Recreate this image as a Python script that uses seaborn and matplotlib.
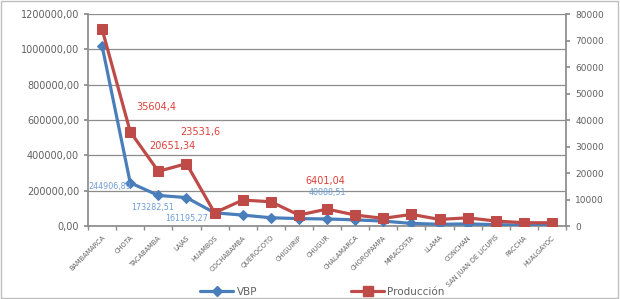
import matplotlib
matplotlib.use("Agg")
import matplotlib.pyplot as plt
import seaborn as sns
import pandas as pd
from matplotlib.lines import Line2D
from matplotlib.patches import Rectangle
from matplotlib.ticker import FuncFormatter, MultipleLocator, FixedLocator

categories = ["BAMBAMARCA", "CHOTA", "TACABAMBA", "LAJAS", "HUAMBOS", "COCHABAMBA",
              "QUEROCOTO", "CHIGUIRIP", "CHUGUR", "CHALAMARCA", "CHOROPAMPA",
              "MIRACOSTA", "LLAMA", "CONCHAN", "SAN JUAN DE LICUPIS", "PACCHA", "HUALGAYOC"]
vbp = [1020000, 244906.89, 173282.51, 161195.27, 75000, 62000, 47000, 42000, 40088.51,
       35000, 28000, 15000, 10000, 12000, 8000, 5000, 4000]
produccion = [74300, 35604.4, 20651.34, 23531.6, 5000, 9800, 9170, 4150, 6401.04,
              4150, 2900, 4400, 2500, 3100, 1900, 1250, 1250]
vbp_labels = {1: "244906,89", 2: "173282,51", 3: "161195,27", 8: "40088,51"}
prod_labels = {1: "35604,4", 2: "20651,34", 3: "23531,6", 8: "6401,04"}

df = pd.DataFrame({"cat": categories, "pos": range(len(categories)),
                   "VBP": vbp, "Produccion": produccion})

sns.set_theme(style="white")
plt.rcParams['font.family'] = ['DejaVu Sans']

blue = "#4A7EBB"
red = "#BE4B48"
gray_txt = "#606060"
axis_gray = "#8C8C8C"

fig = plt.figure(figsize=(6.2, 2.99), dpi=100)
fig.patches.append(Rectangle((0.002, 0.003), 0.995, 0.993, transform=fig.transFigure,
                             fill=False, edgecolor="#BFBFBF", linewidth=1))
ax = fig.add_axes([0.142, 0.244, 0.771, 0.709])
ax2 = ax.twinx()

sns.lineplot(data=df, x="pos", y="VBP", ax=ax, color=blue, linewidth=2.3,
             marker="D", markersize=5, markeredgecolor=blue, zorder=3)
sns.lineplot(data=df, x="pos", y="Produccion", ax=ax2, color=red, linewidth=2.3,
             marker="s", markersize=7, markeredgecolor=red, zorder=3)

n = len(categories)
for a in (ax, ax2):
    a.set_xlim(-0.5, n - 0.5)
    a.set_xlabel("")
    a.set_ylabel("")
ax.set_ylim(0, 1200000)
ax2.set_ylim(0, 80000)
ax.yaxis.set_major_locator(MultipleLocator(200000))
ax2.yaxis.set_major_locator(MultipleLocator(10000))
ax.yaxis.set_major_formatter(FuncFormatter(lambda v, p: f"{v:.2f}".replace(".", ",")))
ax2.yaxis.set_major_formatter(FuncFormatter(lambda v, p: f"{int(v)}"))

ax.set_xticks(range(n))
ax.set_xticklabels(categories, rotation=45, ha="right", rotation_mode="anchor",
                   fontsize=4.8, color=gray_txt)
ax.xaxis.set_minor_locator(FixedLocator([i - 0.5 for i in range(n + 1)]))
ax.tick_params(axis="x", which="major", length=0, pad=6)
ax.tick_params(axis="x", which="minor", length=3, color=axis_gray, direction="out", bottom=True)
ax.tick_params(axis="y", labelsize=7, colors=gray_txt, length=3, color=axis_gray, left=True)
ax2.tick_params(axis="y", labelsize=6.5, colors=gray_txt, length=3, color=axis_gray, right=True)

ax.grid(axis="y", color="#8C8C8C", linewidth=0.9)
ax.grid(axis="x", visible=False)
ax2.grid(False)
for a in (ax, ax2):
    for s in a.spines.values():
        s.set_visible(False)
ax.spines["left"].set_visible(True)
ax.spines["left"].set_color(axis_gray)
ax.spines["bottom"].set_visible(True)
ax.spines["bottom"].set_color(axis_gray)
ax2.spines["right"].set_visible(True)
ax2.spines["right"].set_color(axis_gray)

vbp_off = {1: (-20, -4), 2: (-6, -12), 3: (0, -21), 8: (0, 26)}
for i, t in vbp_labels.items():
    dx, dy = vbp_off[i]
    ax2.annotate(t, (i, vbp[i] / 15.0), xytext=(dx, dy), textcoords="offset pixels",
                 ha="center", va="center", fontsize=5.8, color="#6F9ED5", zorder=5)
prod_off = {1: (26, 25), 2: (14, 25), 3: (14, 32), 8: (-2, 28)}
for i, t in prod_labels.items():
    dx, dy = prod_off[i]
    ax2.annotate(t, (i, produccion[i]), xytext=(dx, dy), textcoords="offset pixels",
                 ha="center", va="center", fontsize=7, color="#E0403A", zorder=5)

handles = [Line2D([0], [0], color=blue, linewidth=2.3, marker="D", markersize=5),
           Line2D([0], [0], color=red, linewidth=2.3, marker="s", markersize=7)]
fig.legend(handles, ["VBP", "Producción"], loc="center", bbox_to_anchor=(0.52, 0.025),
           ncol=2, frameon=False, fontsize=7.5, columnspacing=9, handlelength=3.2,
           handletextpad=0.3, labelcolor=gray_txt)

fig.savefig("out.png", dpi=100)
